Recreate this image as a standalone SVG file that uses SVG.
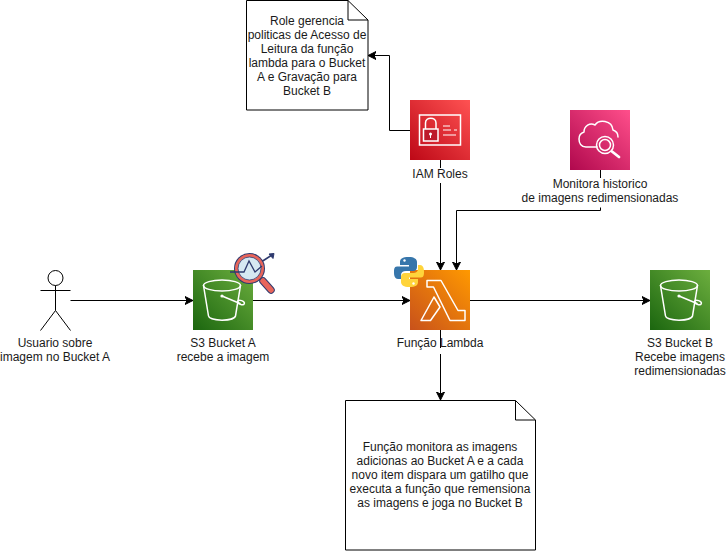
<svg xmlns="http://www.w3.org/2000/svg" width="728" height="551" viewBox="0 0 728 551">
<style>
text{font-family:"Liberation Sans",Arial,Helvetica,sans-serif;font-size:12px;fill:#1a1a1a;text-anchor:middle}
.ln{fill:none;stroke:#000;stroke-width:1}
.doc{fill:#fff;stroke:#000;stroke-width:1}
.ic{fill:none;stroke:#fff;stroke-width:1.500;stroke-linejoin:round;stroke-linecap:round}
.bg{fill:#fff}
</style>
<defs>
<marker id="arr" markerUnits="userSpaceOnUse" markerWidth="10" markerHeight="10" refX="8" refY="5" orient="auto"><path d="M0 1L8 5L0 9L2 5Z" fill="#000" stroke="#000" stroke-width="1"/></marker>
<linearGradient id="gG" x1="0" y1="1" x2="1" y2="0"><stop offset="0" stop-color="#1b660f"/><stop offset="1" stop-color="#6cae3e"/></linearGradient>
<linearGradient id="gO" x1="0" y1="1" x2="1" y2="0"><stop offset="0" stop-color="#c8511b"/><stop offset="1" stop-color="#ff9900"/></linearGradient>
<linearGradient id="gR" x1="0" y1="1" x2="1" y2="0"><stop offset="0" stop-color="#bd0816"/><stop offset="1" stop-color="#ff5252"/></linearGradient>
<linearGradient id="gP" x1="0" y1="1" x2="1" y2="0"><stop offset="0" stop-color="#b0084d"/><stop offset="1" stop-color="#ff4f8b"/></linearGradient>
<g id="bucket">
<rect width="60" height="60" fill="url(#gG)"/>
<ellipse cx="29" cy="15.500" rx="18.500" ry="5.500" class="ic"/>
<path class="ic" d="M10.500 15.500L15.500 46C16.500 51.500 41.500 51.500 42.500 46L47.500 15.500"/>
<path class="ic" d="M29 26L47 33.500"/>
<circle cx="29" cy="26" r="1.600" fill="#fff"/>
<ellipse cx="48" cy="32.500" rx="3.500" ry="2" class="ic" transform="rotate(20 48 32.500)"/>
</g>
</defs>

<g id="connectors">
<path class="ln" d="M70.500 300.500H193" marker-end="url(#arr)"/>
<path class="ln" d="M253 300.500H410" marker-end="url(#arr)"/>
<path class="ln" d="M470 300.500H650" marker-end="url(#arr)"/>
<path class="ln" d="M440.500 330V400" marker-end="url(#arr)"/>
<path class="ln" d="M440.500 160V270" marker-end="url(#arr)"/>
<path class="ln" d="M410 130.500H389.500V55.500H368" marker-end="url(#arr)"/>
<path class="ln" d="M600.500 170V210.500H456.500V270" marker-end="url(#arr)"/>
</g>

<g id="actor">
<circle cx="55.500" cy="278" r="7.500" fill="#fff" stroke="#000"/>
<path class="ln" d="M55.500 285.500V310.500M40.500 290.500H70.500M55.500 310.500L40.500 330.500M55.500 310.500L70.500 330.500"/>
<text x="55" y="347">Usuario sobre</text>
<text x="55" y="361">imagem no Bucket A</text>
</g>

<g id="bucket-a">
<use href="#bucket" x="193" y="270"/>
<text x="223" y="347">S3 Bucket A</text>
<text x="223" y="361">recebe a imagem</text>
</g>

<g id="analyzer">
<path d="M258 264L272 255" stroke="#2e3a6e" stroke-width="1.500" fill="none"/>
<path d="M269 254L274 253.500L273 258.500Z" fill="#2e3a6e" stroke="#2e3a6e"/>
<path d="M263 281L271 290" stroke="#2e3a6e" stroke-width="7.500" stroke-linecap="round"/>
<path d="M263 281L271 290" stroke="#e8655a" stroke-width="5.500" stroke-linecap="round"/>
<circle cx="249.500" cy="268.500" r="15.500" fill="#2e3a6e"/>
<circle cx="249.500" cy="268.500" r="14.500" fill="#e8655a"/>
<circle cx="249.500" cy="268.500" r="11.500" fill="#d6e8f2" stroke="#2e3a6e" stroke-width="0.800"/>
<path d="M230 272H244L249 261L255 272L262 266" fill="none" stroke="#2e3a6e" stroke-width="1.300"/>
</g>

<g id="lambda">
<rect x="410" y="270" width="60" height="60" fill="url(#gO)"/>
<path class="ic" d="M427 280.500H441L458 310.500H465V320.500H450L433.500 287H427ZM434 297L421 320.500H430.500L440 307Z"/>
<rect x="430" y="348" width="20" height="6" class="bg"/>
<text x="440" y="347">Função Lambda</text>
</g>

<g id="python">
<path d="M409 257C402 257 400 259 400 262V265H409V266.500H397C394 266.500 394 270 394 272.500C394 276 395 279 398 279H401V275C401 272.500 403 271 406 271H413C416 271 417 269 417 267V262C417 259 414 257 409 257Z" fill="#3776ab"/>
<path d="M409 287C416 287 418 285 418 282V279H409V277.500H421C424 277.500 424 274 424 271.500C424 268 423 265 420 265H418V269C418 271.500 416 273 413 273H405C402 273 401 275 401 277V282C401 285 404 287 409 287Z" fill="#ffd43b"/>
<circle cx="404.500" cy="260.500" r="1.200" fill="#fff"/>
<circle cx="413.500" cy="283.500" r="1.200" fill="#fff"/>
</g>

<g id="iam">
<rect x="410" y="100" width="60" height="60" fill="url(#gR)"/>
<rect x="419.500" y="115" width="41" height="30" fill="none" stroke="#fff" stroke-width="1.500"/>
<rect x="423.500" y="129" width="14.500" height="12" fill="#bd1a2a" stroke="#fff" stroke-width="1.500"/>
<path d="M425.500 129V123C425.500 116.500 436 116.500 436 123V129" fill="none" stroke="#fff" stroke-width="1.500"/>
<circle cx="430.500" cy="134" r="1.500" fill="#fff"/>
<path d="M430.500 134V138" stroke="#fff"/>
<path d="M443 126H450M443 130H451M454 130H457M443 135H456" stroke="#fff" stroke-width="1.200"/>
<rect x="413" y="168" width="54" height="15" class="bg"/>
<text x="440" y="178">IAM Roles</text>
</g>

<g id="cloudwatch">
<rect x="570" y="110" width="60" height="60" fill="url(#gP)"/>
<path class="ic" d="M597 147H586C581 147 579 143 579 139C579 135 581 133 584 132C584 126 590 122 595 125C599 119 612 120 613 130C616 131 618 134 618 137"/>
<circle cx="605" cy="145" r="8.500" class="ic"/>
<circle cx="605" cy="145" r="5.500" class="ic"/>
<path d="M612 151.500L619 157" stroke="#fff" stroke-width="2.800" stroke-linecap="round"/>
<rect x="522" y="178" width="157" height="29.500" class="bg"/>
<text x="600" y="188">Monitora historico</text>
<text x="600" y="202">de imagens redimensionadas</text>
</g>

<g id="bucket-b">
<use href="#bucket" x="650" y="270"/>
<text x="680" y="347">S3 Bucket B</text>
<text x="680" y="361">Recebe imagens</text>
<text x="680" y="375">redimensionadas</text>
</g>

<g id="note-role">
<path class="doc" d="M246.500 0.500H348L368 20V110H246.500Z"/>
<path class="ln" d="M348 0.500V20H368"/>
<text x="307" y="25">Role gerencia</text>
<text x="307" y="39">politicas de Acesso de</text>
<text x="307" y="53">Leitura da função</text>
<text x="307" y="67">lambda para o Bucket</text>
<text x="307" y="81">A e Gravação para</text>
<text x="307" y="95">Bucket B</text>
</g>

<g id="note-lambda">
<path class="doc" d="M345.500 400.500H515.500L535.500 420V550H345.500Z"/>
<path class="ln" d="M515.500 400.500V420H535.500"/>
<text x="440" y="451">Função monitora as imagens</text>
<text x="440" y="465">adicionas ao Bucket A e a cada</text>
<text x="440" y="479">novo item dispara um gatilho que</text>
<text x="440" y="493">executa a função que remensiona</text>
<text x="440" y="507">as imagens e joga no Bucket B</text>
</g>
</svg>
